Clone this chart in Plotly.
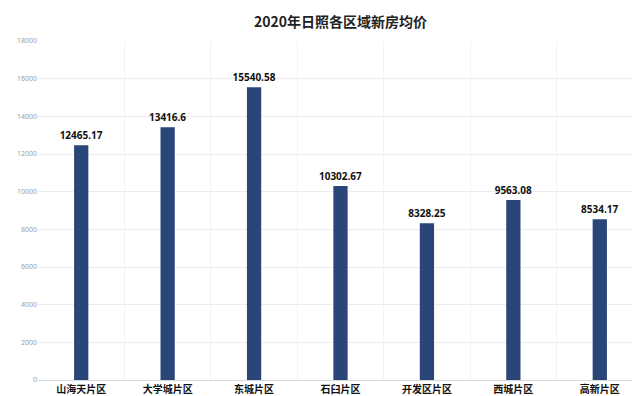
import plotly.graph_objects as go

categories = ["山海天片区", "大学城片区", "东城片区", "石臼片区", "开发区片区", "西城片区", "高新片区"]
prices = [12465.17, 13416.6, 15540.58, 10302.67, 8328.25, 9563.08, 8534.17]
price_labels = ["12465.17", "13416.6", "15540.58", "10302.67", "8328.25", "9563.08", "8534.17"]
y_ticks = [0, 2000, 4000, 6000, 8000, 10000, 12000, 14000, 16000, 18000]
y_tick_labels = ["0", "2000", "4000", "6000", "8000", "10000", "12000", "14000", "16000", "18000"]

fig = go.Figure()
fig.add_trace(go.Bar(
    x=list(range(len(categories))),
    y=prices,
    width=0.165,
    marker=dict(color="#2a4678", line=dict(width=0)),
    text=price_labels,
    textposition="outside",
    constraintext="none",
    textfont=dict(family="Noto Sans, sans-serif", size=10, color="#111111", weight="bold"),
    cliponaxis=False,
))

fig.add_annotation(
    text="<b>2020年日照各区域新房均价</b>",
    xref="paper", yref="paper", x=0.5, y=1, xanchor="center", yanchor="middle",
    yshift=20, showarrow=False,
    font=dict(family="Noto Sans CJK SC, sans-serif", size=14, color="#222222"),
)

fig.update_layout(
    width=640, height=396,
    margin=dict(l=30, r=5, t=33, b=24),
    paper_bgcolor="white",
    plot_bgcolor="white",
    showlegend=False,
    uniformtext=dict(mode=False),
    xaxis=dict(
        range=[-0.5, len(categories) - 0.5],
        tickmode="array",
        tickvals=list(range(len(categories))),
        ticktext=categories,
        tickfont=dict(family="Noto Sans CJK SC, sans-serif", size=10, color="#111111", weight="bold"),
        showgrid=False,
        zeroline=False,
        showline=True, linecolor="#d9d9d9", linewidth=1,
        ticks="",
        minor=dict(tickvals=[i + 0.5 for i in range(-1, len(categories))], showgrid=True,
                   gridcolor="#f2f2f2", gridwidth=1),
    ),
    yaxis=dict(
        range=[0, 18000],
        tickmode="array",
        tickvals=y_ticks,
        ticktext=y_tick_labels,
        tickfont=dict(family="Noto Sans, sans-serif", size=7, color="#a0a0a0"),
        showgrid=True, gridcolor="#ececec", gridwidth=1,
        zeroline=False,
        showline=False,
        ticks="",
    ),
    bargap=0.8,
)

fig.write_html("out.html")
